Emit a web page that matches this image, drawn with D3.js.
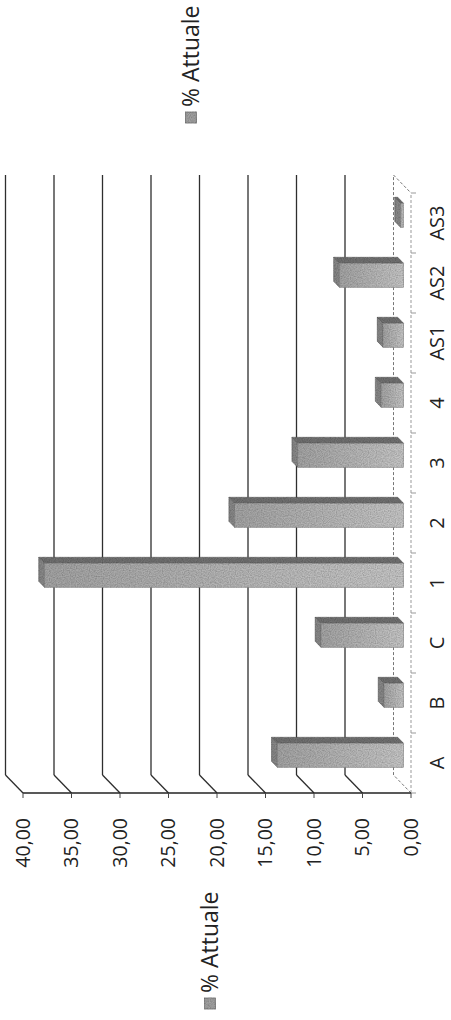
<!DOCTYPE html>
<html>
<head>
<meta charset="utf-8">
<script src="https://cdn.jsdelivr.net/npm/d3@7"></script>
<style>
  html, body { margin: 0; padding: 0; background: #ffffff; }
  svg { display: block; }
  text { font-family: "Open Sans", "Noto Sans", sans-serif; fill: #222; }
</style>
</head>
<body>
<div id="chart"></div>
<script>
// ---- data ----
const categories = ["A", "B", "C", "1", "2", "3", "4", "AS1", "AS2", "AS3"];
const values = [13.0, 2.0, 8.5, 37.0, 17.4, 10.9, 2.3, 2.1, 6.6, 0.3];
const valueTicks = [0, 5, 10, 15, 20, 25, 30, 35, 40];
const seriesName = "% Attuale";

// ---- layout (chart drawn in its own frame, then turned a quarter turn) ----
const W = 451, H = 1020;
const plotLen = 600;            // category direction length
const DX = 18, DY = -17.5;      // 3D depth offset (back wall)
const f0 = 0.43, f1 = 0.76;     // bar front / back depth fractions

const svg = d3.select("#chart").append("svg")
  .attr("width", W).attr("height", H)
  .style("background", "#fff");

const defs = svg.append("defs");
const grad = defs.append("linearGradient").attr("id", "frontGrad")
  .attr("x1", 0).attr("y1", 0).attr("x2", 0).attr("y2", 1);
grad.append("stop").attr("offset", "0%").attr("stop-color", "#a4a4a4");
grad.append("stop").attr("offset", "100%").attr("stop-color", "#c6c6c6");

const filt = defs.append("filter").attr("id", "grain")
  .attr("x", "-5%").attr("y", "-5%").attr("width", "110%").attr("height", "110%");
filt.append("feTurbulence").attr("type", "fractalNoise")
  .attr("baseFrequency", "0.85").attr("numOctaves", 1).attr("seed", 3).attr("result", "n");
filt.append("feColorMatrix").attr("in", "n").attr("type", "matrix")
  .attr("values", "0 0 0 0 0  0 0 0 0 0  0 0 0 0 0  0.8 0 0 0 -0.25").attr("result", "spk");
filt.append("feComposite").attr("in", "spk").attr("in2", "SourceGraphic")
  .attr("operator", "in").attr("result", "spkIn");
const merge = filt.append("feMerge");
merge.append("feMergeNode").attr("in", "SourceGraphic");
merge.append("feMergeNode").attr("in", "spkIn");

const g = svg.append("g").attr("transform", "translate(0,793) rotate(-90)");

const x = d3.scaleBand().domain(categories).range([0, plotLen]).padding(0);
const y = d3.scaleLinear().domain([0, 40]).range([411, 23]);
const bw = x.bandwidth();
const fmt = d3.formatLocale({ decimal: ",", thousands: ".", grouping: [3], currency: ["", "€"] }).format(".2f");

// back-wall gridlines
g.append("g").selectAll("line").data(valueTicks.filter(v => v > 0)).join("line")
  .attr("x1", DX).attr("x2", plotLen + DX)
  .attr("y1", d => y(d) + DY).attr("y2", d => y(d) + DY)
  .attr("stroke", "#2e2e2e").attr("stroke-width", 1.3);
// side-wall gridlines
g.append("g").selectAll("line").data(valueTicks.filter(v => v > 0)).join("line")
  .attr("x1", 0).attr("x2", DX)
  .attr("y1", d => y(d)).attr("y2", d => y(d) + DY)
  .attr("stroke", "#2e2e2e").attr("stroke-width", 1.3);

// floor edges (dashed, light)
const floorPts = [[0, y(0)], [DX, y(0) + DY], [plotLen + DX, y(0) + DY], [plotLen, y(0)]];
g.append("path")
  .attr("d", d3.line()(floorPts))
  .attr("fill", "none").attr("stroke", "#777").attr("stroke-width", 1)
  .attr("stroke-dasharray", "3,2");

// category axis (front floor edge)
g.append("line").attr("x1", 0).attr("x2", plotLen).attr("y1", y(0)).attr("y2", y(0))
  .attr("stroke", "#999").attr("stroke-width", 1).attr("stroke-dasharray", "3,2");
g.append("g").selectAll("line").data(d3.range(categories.length + 1)).join("line")
  .attr("x1", i => i * bw).attr("x2", i => i * bw)
  .attr("y1", y(0)).attr("y2", y(0) + 5)
  .attr("stroke", "#999").attr("stroke-width", 1);

// value axis
g.append("line").attr("x1", 0).attr("x2", 0).attr("y1", y(0)).attr("y2", y(40))
  .attr("stroke", "#222").attr("stroke-width", 1.6);
g.append("g").selectAll("line").data(valueTicks).join("line")
  .attr("x1", -5).attr("x2", 0).attr("y1", d => y(d)).attr("y2", d => y(d))
  .attr("stroke", "#444").attr("stroke-width", 1);

// value labels
g.append("g").selectAll("text").data(valueTicks).join("text")
  .attr("x", -25).attr("y", d => y(d)).attr("dy", "0.35em")
  .attr("text-anchor", "end").attr("font-size", 19.5)
  .text(d => fmt(d));

// category labels
g.append("g").selectAll("text").data(categories).join("text")
  .attr("x", d => x(d) + bw / 2).attr("y", 437).attr("dy", "0.35em")
  .attr("text-anchor", "middle").attr("font-size", 20)
  .text(d => d);

// bars
const data = categories.map((c, i) => ({ c, v: values[i] }));
const ox0 = f0 * DX, oy0 = f0 * DY, ox1 = f1 * DX, oy1 = f1 * DY;
const bars = g.append("g").attr("filter", "url(#grain)");
data.forEach(d => {
  const x0 = x(d.c) + bw * 0.3, x1 = x0 + bw * 0.4;
  const yt = y(d.v), yb = y(0);
  const bg = bars.append("g");
  // right side face
  bg.append("path").attr("d", d3.line()([
    [x1 + ox0, yt + oy0], [x1 + ox1, yt + oy1], [x1 + ox1, yb + oy1], [x1 + ox0, yb + oy0]
  ]) + "Z").attr("fill", "#727272").attr("stroke", "#5e5e5e").attr("stroke-width", 0.6);
  // top face
  bg.append("path").attr("d", d3.line()([
    [x0 + ox0, yt + oy0], [x1 + ox0, yt + oy0], [x1 + ox1, yt + oy1], [x0 + ox1, yt + oy1]
  ]) + "Z").attr("fill", "#888").attr("stroke", "#5e5e5e").attr("stroke-width", 0.6);
  // front face
  bg.append("rect").attr("x", x0 + ox0).attr("y", yt + oy0)
    .attr("width", x1 - x0).attr("height", Math.max(0, yb - yt))
    .attr("fill", "url(#frontGrad)").attr("stroke", "#888").attr("stroke-width", 0.6);
});

// legends
function legend(lx, ly) {
  const lg = g.append("g");
  lg.append("rect").attr("x", lx).attr("y", ly - 5.5).attr("width", 11).attr("height", 11)
    .attr("fill", "#a3a3a3").attr("stroke", "#777").attr("stroke-width", 0.8)
    .attr("filter", "url(#grain)");
  lg.append("text").attr("x", lx + 16).attr("y", ly).attr("dy", "0.35em")
    .attr("font-size", 23).text(seriesName);
}
legend(670, 191);
legend(-216, 210);
</script>
</body>
</html>
